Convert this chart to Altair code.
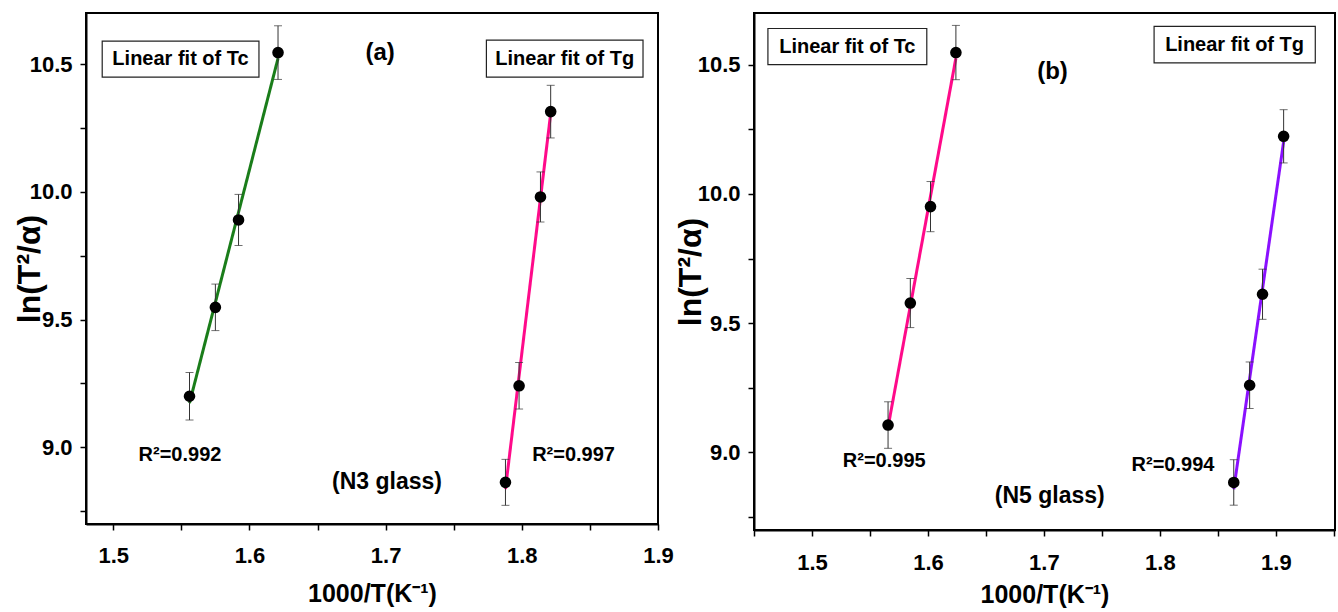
import altair as alt
import pandas as pd

# ---------------- data ----------------
# Panel (a) : N3 glass
a_tc_x = [1.556, 1.575, 1.592, 1.621]
a_tc_y = [9.200, 9.548, 9.890, 10.545]
a_tc_err = [0.093, 0.091, 0.100, 0.105]
a_tg_x = [1.788, 1.798, 1.8137, 1.8212]
a_tg_y = [8.863, 9.241, 9.980, 10.314]
a_tg_err = [0.090, 0.091, 0.098, 0.103]

# Panel (b) : N5 glass
b_tc_x = [1.5656, 1.5848, 1.6022, 1.6241]
b_tc_y = [9.106, 9.578, 9.951, 10.547]
b_tc_err = [0.090, 0.095, 0.097, 0.105]
b_tg_x = [1.8637, 1.8774, 1.8885, 1.9067]
b_tg_y = [8.884, 9.260, 9.612, 10.223]
b_tg_err = [0.088, 0.090, 0.097, 0.103]

y_domain = [8.70, 10.70]
y_ticks = [8.75, 9.0, 9.25, 9.5, 9.75, 10.0, 10.25, 10.5]
a_x_domain = [1.48, 1.90]
a_x_ticks = [1.5, 1.55, 1.6, 1.65, 1.7, 1.75, 1.8, 1.85, 1.9]
b_x_domain = [1.45, 1.951]
b_x_ticks = [1.45, 1.5, 1.55, 1.6, 1.65, 1.7, 1.75, 1.8, 1.85, 1.9, 1.95]

# annotation texts (data coordinates)
a_text = ["Linear fit of Tc", "Linear fit of Tg", "(a)", "R²=0.992", "R²=0.997", "(N3 glass)"]
a_text_x = [1.5494, 1.8315, 1.696, 1.549, 1.838, 1.701]
a_text_y = [10.52, 10.52, 10.543, 8.969, 8.969, 8.863]
a_text_fs = [20, 20, 24, 20, 20, 23]
a_box_x = [1.4919, 1.774]
a_box_x2 = [1.607, 1.889]
a_box_y = [10.449, 10.449]
a_box_y2 = [10.59, 10.594]

b_text = ["Linear fit of Tc", "Linear fit of Tg", "(b)", "R²=0.995", "R²=0.994", "(N5 glass)"]
b_text_x = [1.5305, 1.8644, 1.7074, 1.5623, 1.8113, 1.705]
b_text_y = [10.57, 10.577, 10.47, 8.968, 8.951, 8.83]
b_text_fs = [20, 20, 24, 20, 20, 23]
b_box_x = [1.462, 1.795]
b_box_x2 = [1.599, 1.934]
b_box_y = [10.50, 10.507]
b_box_y2 = [10.64, 10.648]

FONT = "Liberation Sans Narrow, Liberation Sans, Arial, sans-serif"
REG = "Liberation Sans, Arial, sans-serif"


def series_df(xs, ys, errs, name):
    return pd.DataFrame({
        "x": xs, "y": ys,
        "lo": [v - e for v, e in zip(ys, errs)],
        "hi": [v + e for v, e in zip(ys, errs)],
        "s": name,
    })


def panel(tc, tg, col_tc, col_tg, xdom, xticks, width, height,
          texts, tx, ty, tfs, bx, bx2, by, by2, title_x, title_y, lab_pad):
    df = pd.concat([series_df(*tc, "Tc"), series_df(*tg, "Tg")], ignore_index=True)
    xaxis = alt.Axis(
        values=xticks,
        labelExpr="(round(datum.value*100) % 10 == 0) ? format(datum.value, '.1f') : ''",
        title="1000/T(K⁻¹)", titleFont=REG, titleFontSize=25, titleFontWeight="bold",
        titleBaseline="middle", titleY=title_y,
        labelFont=FONT, labelFontSize=22, labelFontWeight="bold", labelPadding=lab_pad,
        labelFlush=False,
    )
    yaxis = alt.Axis(
        values=y_ticks,
        labelExpr="(round(datum.value*100) % 50 == 0) ? format(datum.value, '.1f') : ''",
        title="ln(T²/α)", titleFont=REG, titleFontSize=32, titleFontWeight="bold",
        titleAngle=-90, titleBaseline="middle", titleX=title_x,
        labelFont=FONT, labelFontSize=22, labelFontWeight="bold", labelPadding=8,
        labelFlush=False,
    )
    X = alt.X("x:Q", scale=alt.Scale(domain=xdom, nice=False, zero=False), axis=xaxis)
    Y = alt.Y("y:Q", scale=alt.Scale(domain=y_domain, nice=False, zero=False), axis=yaxis)
    Xn = alt.X("x:Q", scale=alt.Scale(domain=xdom, nice=False, zero=False))
    base = alt.Chart(df)

    layers = []
    # framing boxes around fit labels
    boxes = pd.DataFrame({"x": bx, "x2": bx2, "y": by, "y2": by2})
    layers.append(
        alt.Chart(boxes).mark_rect(fill="white", stroke="#222", strokeWidth=1.2).encode(
            x=X, x2="x2:Q", y=Y, y2="y2:Q")
    )
    for s, c in (("Tc", col_tc), ("Tg", col_tg)):
        layers.append(
            base.transform_filter(f"datum.s == '{s}'")
            .transform_regression("x", "y")
            .mark_line(color=c, strokeWidth=3)
            .encode(x=Xn, y="y:Q")
        )
    layers.append(base.mark_rule(color="#333", strokeWidth=1).encode(x=Xn, y="lo:Q", y2="hi:Q"))
    layers.append(base.mark_tick(color="#333", orient="horizontal", size=8, thickness=1).encode(x=Xn, y="lo:Q"))
    layers.append(base.mark_tick(color="#333", orient="horizontal", size=8, thickness=1).encode(x=Xn, y="hi:Q"))
    layers.append(base.mark_point(filled=True, color="black", size=135, opacity=1).encode(x=Xn, y="y:Q"))
    tdf = pd.DataFrame({"x": tx, "y": ty, "t": texts, "fs": tfs})
    layers.append(
        alt.Chart(tdf).mark_text(font=FONT, fontWeight="bold", color="black",
                                 align="center", baseline="middle").encode(
            x=Xn, y="y:Q", text="t:N", size=alt.Size("fs:Q", scale=None, legend=None))
    )
    return alt.layer(*layers).properties(width=width, height=height)


left = panel((a_tc_x, a_tc_y, a_tc_err), (a_tg_x, a_tg_y, a_tg_err),
             "#1a7d1a", "#ff0a8a", a_x_domain, a_x_ticks, 572, 511,
             a_text, a_text_x, a_text_y, a_text_fs,
             a_box_x, a_box_x2, a_box_y, a_box_y2, -57, 69, 15)
right = panel((b_tc_x, b_tc_y, b_tc_err), (b_tg_x, b_tg_y, b_tg_err),
              "#ff0a8a", "#8a10ff", b_x_domain, b_x_ticks, 581, 517,
              b_text, b_text_x, b_text_y, b_text_fs,
              b_box_x, b_box_x2, b_box_y, b_box_y2, -64, 64, 16)

chart = alt.hconcat(left, right, spacing=96, bounds="flush").properties(
    padding={"left": 12, "top": 12, "right": 2, "bottom": 4},
    background="white",
).configure_view(stroke="black", strokeWidth=2).configure_axis(
    domainColor="black", domainWidth=2, tickColor="black", tickWidth=1.5,
    tickSize=6, grid=False, labelColor="black", titleColor="black",
)

chart.save("out.html", embed_options={"renderer": "svg", "actions": False})
